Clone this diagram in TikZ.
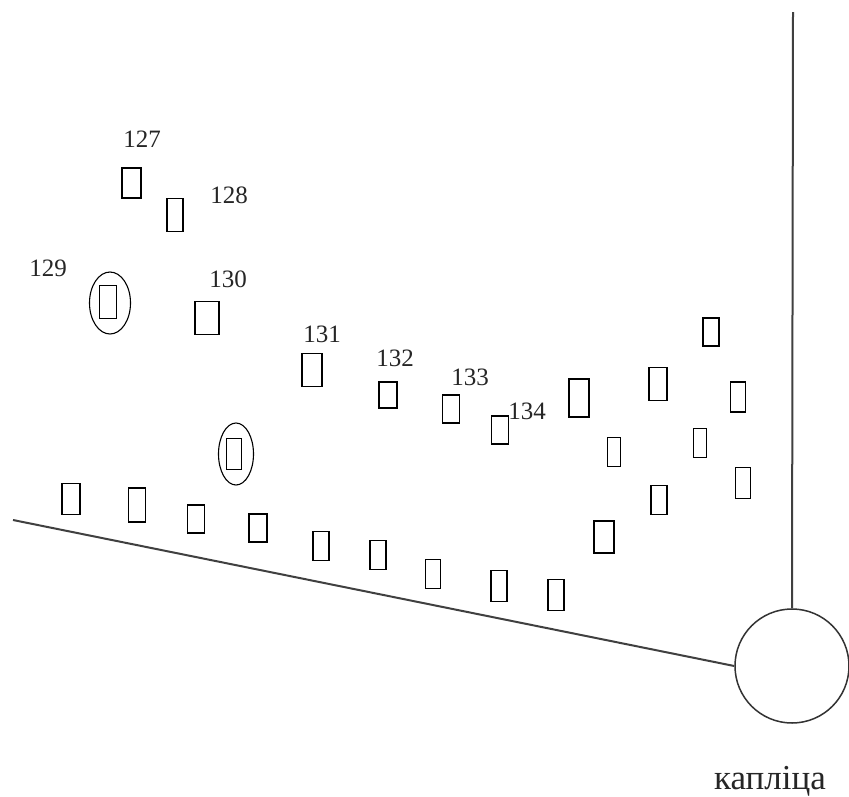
\documentclass[tikz,border=0pt]{standalone}
\usepackage{fontspec}
\setmainfont{Liberation Serif}
\usetikzlibrary{shapes.geometric}
\begin{document}
\begin{tikzpicture}[x=1pt,y=-1pt,
  grave/.style={draw=black,line width=1.5pt,rectangle,inner sep=0pt,fill=none},
  ring/.style={draw=black,line width=1.1pt,ellipse,inner sep=0pt},
  num/.style={inner sep=0pt,font=\fontsize{25}{25}\selectfont,text=black!85},
  road/.style={draw=black!75,line width=2pt}]
\path[use as bounding box,fill=white] (0,0) rectangle (849,796);
% labelled graves
\node[grave,minimum width=19,minimum height=30] (g127) at (131.5,183) {};
\node[grave,minimum width=16,minimum height=33] (g128) at (175,215) {};
\node[grave,minimum width=17,minimum height=33] (g129) at (108,302) {};
\node[grave,minimum width=24,minimum height=33] (g130) at (207,318) {};
\node[grave,minimum width=20,minimum height=33] (g131) at (312,370) {};
\node[grave,minimum width=18,minimum height=26] (g132) at (388,395) {};
\node[grave,minimum width=17,minimum height=28] (g133) at (451,409) {};
\node[grave,minimum width=17,minimum height=28] (g134) at (500,430) {};
% labels
\node[num] (l127) at (142,139) {127};
\node[num] (l128) at (229,195) {128};
\node[num] (l129) at (48,268) {129};
\node[num] (l130) at (228,279) {130};
\node[num] (l131) at (322,334) {131};
\node[num] (l132) at (395,358) {132};
\node[num] (l133) at (470,377) {133};
\node[num] (l134) at (527,411) {134};
% rings
\node[ring,minimum width=41,minimum height=62] (r1) at (110,303) {};
\node[ring,minimum width=35,minimum height=62] (r2) at (236,454) {};
\node[grave,minimum width=15,minimum height=31] (g2) at (234,454) {};
% bottom row
\node[grave,minimum width=18,minimum height=31] (b1) at (71,499) {};
\node[grave,minimum width=17,minimum height=34] (b2) at (137,505) {};
\node[grave,minimum width=17,minimum height=28] (b3) at (196,519) {};
\node[grave,minimum width=18,minimum height=28] (b4) at (258,528) {};
\node[grave,minimum width=16,minimum height=29] (b5) at (321,546) {};
\node[grave,minimum width=16,minimum height=29] (b6) at (378,555) {};
\node[grave,minimum width=15,minimum height=29] (b7) at (433,574) {};
\node[grave,minimum width=16,minimum height=31] (b8) at (499,586) {};
\node[grave,minimum width=16,minimum height=31] (b9) at (556,595) {};
% right cluster
\node[grave,minimum width=16,minimum height=28] (c1) at (711,332) {};
\node[grave,minimum width=18,minimum height=33] (c2) at (658,384) {};
\node[grave,minimum width=20,minimum height=38] (c3) at (579,398) {};
\node[grave,minimum width=15,minimum height=30] (c4) at (738,397) {};
\node[grave,minimum width=13,minimum height=29] (c5) at (614,452) {};
\node[grave,minimum width=13,minimum height=29] (c6) at (700,443) {};
\node[grave,minimum width=15,minimum height=31] (c7) at (743,483) {};
\node[grave,minimum width=16,minimum height=29] (c8) at (659,500) {};
\node[grave,minimum width=20,minimum height=32] (c9) at (604,537) {};
% chapel
\node[draw=black!80,line width=1.5pt,circle,minimum size=114,inner sep=0pt] (chapel) at (792,666) {};
\node[inner sep=0pt,font=\fontsize{35}{35}\selectfont,text=black!85] (kap) at (770,781) {капліца};
\coordinate (top) at (793,12);
\coordinate (left) at (13,520);
\draw[road] (top) -- (chapel.north);
\draw[road] (left) -- (chapel.west);
\end{tikzpicture}
\end{document}
